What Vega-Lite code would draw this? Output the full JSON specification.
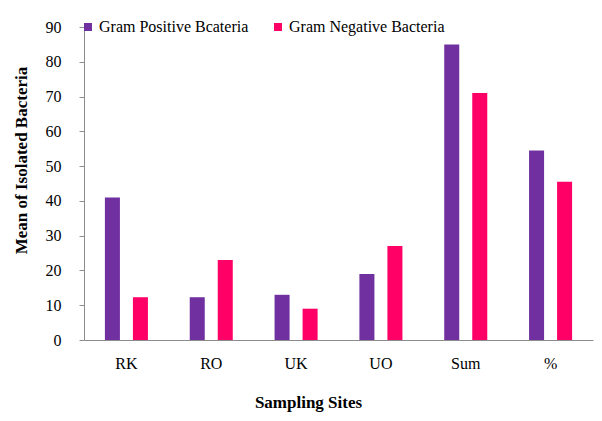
{
  "$schema": "https://vega.github.io/schema/vega-lite/v6.json",
  "autosize": "none",
  "width": 509,
  "height": 313,
  "padding": {"left": 84, "top": 27, "right": 9, "bottom": 81},
  "background": "white",
  "config": {
    "view": {"stroke": null},
    "font": "'Times New Roman', 'Liberation Serif', serif"
  },
  "data": {
    "values": [
      {"site": "RK", "type": "Gram  Positive Bcateria", "value": 41},
      {"site": "RK", "type": "Gram  Negative Bacteria", "value": 12.3},
      {"site": "RO", "type": "Gram  Positive Bcateria", "value": 12.3},
      {"site": "RO", "type": "Gram  Negative Bacteria", "value": 23},
      {"site": "UK", "type": "Gram  Positive Bcateria", "value": 13},
      {"site": "UK", "type": "Gram  Negative Bacteria", "value": 9},
      {"site": "UO", "type": "Gram  Positive Bcateria", "value": 19},
      {"site": "UO", "type": "Gram  Negative Bacteria", "value": 27},
      {"site": "Sum", "type": "Gram  Positive Bcateria", "value": 85},
      {"site": "Sum", "type": "Gram  Negative Bacteria", "value": 71},
      {"site": "%", "type": "Gram  Positive Bcateria", "value": 54.5},
      {"site": "%", "type": "Gram  Negative Bacteria", "value": 45.5}
    ]
  },
  "mark": {"type": "bar"},
  "encoding": {
    "x": {
      "field": "site",
      "type": "nominal",
      "sort": ["RK", "RO", "UK", "UO", "Sum", "%"],
      "scale": {"paddingInner": 0, "paddingOuter": 0},
      "axis": {
        "title": "Sampling Sites",
        "labelAngle": 0,
        "ticks": false,
        "domainColor": "#8c8c8c",
        "labelFont": "'Times New Roman', 'Liberation Serif', serif",
        "labelFontSize": 16,
        "labelColor": "black",
        "labelPadding": 15,
        "titleFont": "'Times New Roman', 'Liberation Serif', serif",
        "titleFontSize": 17,
        "titleFontWeight": "bold",
        "titleColor": "black",
        "titleX": 224,
        "titleY": 62,
        "titleAnchor": null,
        "titleAlign": "center",
        "titleBaseline": "middle"
      }
    },
    "xOffset": {
      "field": "type",
      "type": "nominal",
      "sort": ["Gram  Positive Bcateria", "Gram  Negative Bacteria"],
      "scale": {"paddingInner": 0.464, "paddingOuter": 0.746}
    },
    "y": {
      "field": "value",
      "type": "quantitative",
      "scale": {"domain": [0, 90], "nice": false},
      "axis": {
        "title": "Mean  of Isolated  Bacteria",
        "values": [0, 10, 20, 30, 40, 50, 60, 70, 80, 90],
        "grid": false,
        "domainColor": "#8c8c8c",
        "tickColor": "#8c8c8c",
        "tickSize": 5,
        "labelFont": "'Times New Roman', 'Liberation Serif', serif",
        "labelFontSize": 16,
        "labelColor": "black",
        "labelPadding": 18,
        "titleFont": "'Times New Roman', 'Liberation Serif', serif",
        "titleFontSize": 17,
        "titleFontWeight": "bold",
        "titleColor": "black",
        "titleX": -63,
        "titleY": 133,
        "titleAngle": -90,
        "titleAnchor": null,
        "titleAlign": "center",
        "titleBaseline": "middle"
      }
    },
    "color": {
      "field": "type",
      "type": "nominal",
      "sort": ["Gram  Positive Bcateria", "Gram  Negative Bacteria"],
      "scale": {"range": ["#7030A0", "#FF0066"]},
      "legend": {
        "title": null,
        "orient": "none",
        "direction": "horizontal",
        "legendX": -4,
        "legendY": -8,
        "symbolType": "square",
        "symbolSize": 64,
        "symbolStrokeWidth": 0,
        "labelFont": "'Times New Roman', 'Liberation Serif', serif",
        "labelFontSize": 16,
        "labelColor": "black",
        "labelOffset": 3,
        "columnPadding": 17
      }
    }
  }
}
